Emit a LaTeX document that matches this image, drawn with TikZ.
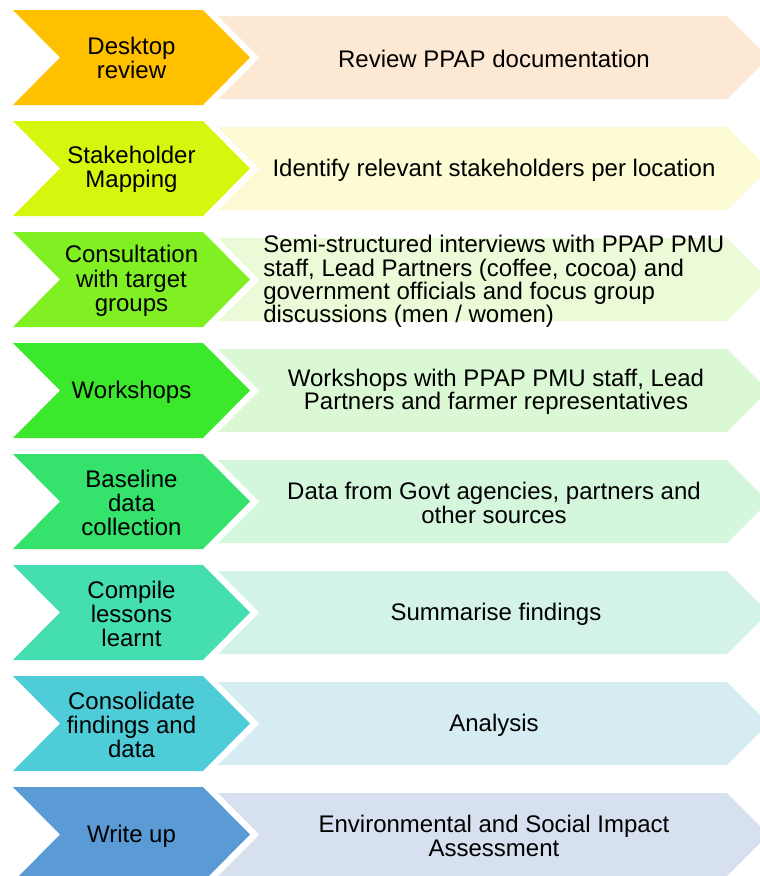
\documentclass[tikz,border=0pt]{standalone}
\usepackage{fontspec}
\setmainfont{Liberation Sans}
\definecolor{deskgold}{RGB}{255,192,0}
\definecolor{deskpeach}{RGB}{253,233,211}
\definecolor{mapyellow}{RGB}{214,246,14}
\definecolor{mapcream}{RGB}{252,251,211}
\definecolor{consultlime}{RGB}{128,240,34}
\definecolor{consultpale}{RGB}{235,250,215}
\definecolor{workgreen}{RGB}{60,232,44}
\definecolor{workpale}{RGB}{218,248,211}
\definecolor{basegreen}{RGB}{52,226,108}
\definecolor{basepale}{RGB}{211,246,221}
\definecolor{lessonteal}{RGB}{68,222,176}
\definecolor{lessonpale}{RGB}{211,243,233}
\definecolor{consolcyan}{RGB}{78,205,216}
\definecolor{consolpale}{RGB}{212,236,242}
\definecolor{writeblue}{RGB}{91,155,213}
\definecolor{writepale}{RGB}{214,224,238}

\begin{document}
\begin{tikzpicture}[x=0.75pt, y=-0.75pt,
  steplabel/.style={align=center, inner sep=0pt, font=\fontsize{18}{18.3}\selectfont},
  tasklabel/.style={align=center, inner sep=0pt, font=\fontsize{18}{17.5}\selectfont}]
  \useasboundingbox (0,0) rectangle (760,876);
  \clip (0,0) rectangle (760,876);

  % Arrows: dark chevron + pale arrow per row, rows 111 apart
  \foreach \row/\dark/\pale in {0/deskgold/deskpeach, 1/mapyellow/mapcream,
      2/consultlime/consultpale, 3/workgreen/workpale, 4/basegreen/basepale,
      5/lessonteal/lessonpale, 6/consolcyan/consolpale, 7/writeblue/writepale} {
    \pgfmathsetmacro\c{57.5+111*\row}
    \fill[\dark] (13,\c-47.5) -- (203,\c-47.5) -- (250,\c) -- (203,\c+47.5) -- (13,\c+47.5) -- (60,\c) -- cycle;
    \fill[\pale] (218,\c-41.5) -- (727,\c-41.5) -- (768.5,\c) -- (727,\c+41.5) -- (218,\c+41.5) -- (259.5,\c) -- cycle;
  }

  % Row 0: Desktop review
  \node[steplabel] (desk) at (131.5,58) {Desktop\\review};
  \node[tasklabel] (deskTask) at (494,58.5) {Review PPAP documentation};
  % Row 1: Stakeholder mapping
  \node[steplabel] (mapping) at (131.5,169.5) {Stakeholder\\Mapping};
  \node[tasklabel] (mappingTask) at (494,170) {Identify relevant stakeholders per location};
  % Row 2: Consultation
  \node[steplabel] (consult) at (131.5,281) {Consultation\\with target\\groups};
  \node[tasklabel, align=left, anchor=west] (consultTask) at (263,281.5) {Semi-structured interviews with PPAP PMU\\staff, Lead Partners (coffee, cocoa) and\\government officials and focus group\\discussions (men / women)};
  % Row 3: Workshops
  \node[steplabel] (workshops) at (131.5,392) {Workshops};
  \node[tasklabel] (workshopsTask) at (496,392) {Workshops with PPAP PMU staff, Lead\\Partners and farmer representatives};
  % Row 4: Baseline
  \node[steplabel] (baseline) at (131.5,503) {Baseline\\data\\collection};
  \node[tasklabel] (baselineTask) at (494,503) {Data from Govt agencies, partners and\\other sources};
  % Row 5: Lessons
  \node[steplabel] (lessons) at (131.5,614) {Compile\\lessons\\learnt};
  \node[tasklabel] (lessonsTask) at (496,614) {Summarise findings};
  % Row 6: Consolidate
  \node[steplabel] (consolidate) at (131.5,725) {Consolidate\\findings and\\data};
  \node[tasklabel] (consolidateTask) at (494,725) {Analysis};
  % Row 7: Write up
  \node[steplabel] (writeup) at (131.5,836) {Write up};
  \node[tasklabel] (writeupTask) at (494,836) {Environmental and Social Impact\\Assessment};
\end{tikzpicture}
\end{document}
